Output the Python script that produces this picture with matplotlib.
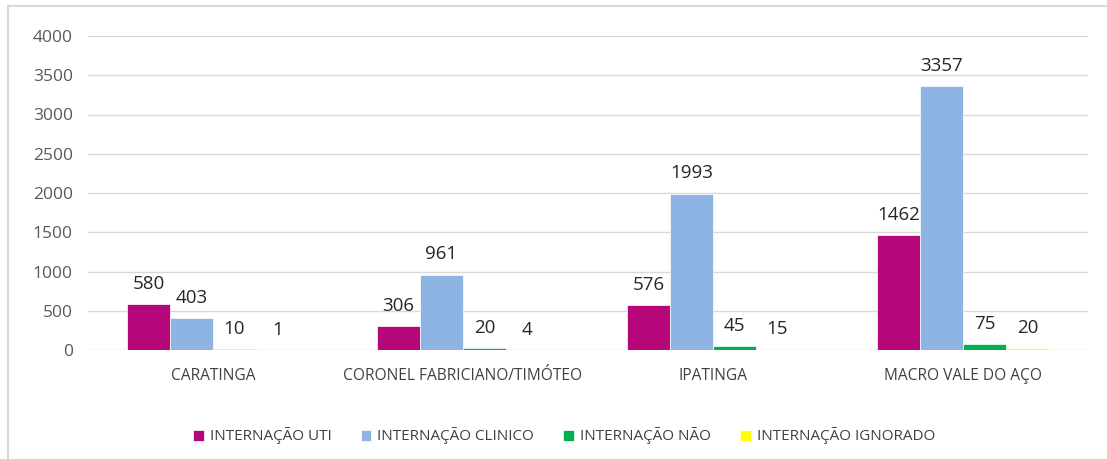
#!/usr/bin/env python
"""Hospitalisations by micro-region, grouped bar chart."""

import matplotlib

matplotlib.use("Agg")

import matplotlib.pyplot as plt
import numpy as np
from matplotlib.patches import Rectangle

plt.rcParams["font.family"] = ["Open Sans", "DejaVu Sans"]

categories = ["CARATINGA", "CORONEL FABRICIANO/TIMÓTEO", "IPATINGA", "MACRO VALE DO AÇO"]
series_names = ["INTERNAÇÃO UTI", "INTERNAÇÃO CLINICO", "INTERNAÇÃO NÃO", "INTERNAÇÃO IGNORADO"]
uti = [580, 306, 576, 1462]
clinico = [403, 961, 1993, 3357]
nao = [10, 20, 45, 75]
ignorado = [1, 4, 15, 20]
yticks = [0, 500, 1000, 1500, 2000, 2500, 3000, 3500, 4000]

colors = ["#B5077A", "#8EB4E3", "#00B050", "#FFFF00"]

fig = plt.figure(figsize=(11.07, 4.59), dpi=100)
fig.patches.append(Rectangle((8 / 1107, -0.1), 1.2, 1.1 - 6 / 459, transform=fig.transFigure,
                             fill=False, edgecolor="#D9D9D9", linewidth=1.5))
ax = fig.add_axes([88 / 1107, 1 - 350 / 459, 1000 / 1107, 314 / 459])

x = np.arange(len(categories))
width = 0.172
for i, (vals, name) in enumerate(zip([uti, clinico, nao, ignorado], series_names)):
    pos = x + (i - 1.5) * width
    bars = ax.bar(pos, vals, width, color=colors[i], label=name, edgecolor="white", linewidth=0.5, zorder=3)
    for rect, v in zip(bars, vals):
        ax.annotate(str(v), (rect.get_x() + rect.get_width() / 2, v), xytext=(0, 8),
                    textcoords="offset points", ha="center", va="bottom",
                    fontsize=13.5, color="#262626")

ax.set_xlim(-0.5, len(categories) - 0.5)
ax.set_ylim(0, 4000)
ax.set_yticks(yticks)
ax.set_xticks(x)
ax.set_xticklabels(categories)
ax.grid(axis="y", color="#D9D9D9", linewidth=1, zorder=0)
for side in ["top", "right", "left", "bottom"]:
    ax.spines[side].set_visible(False)
ax.tick_params(axis="both", length=0, colors="#595959")
ax.tick_params(axis="x", pad=13, labelsize=11.2, labelcolor="#404040")
ax.tick_params(axis="y", pad=11, labelsize=12.5)

fig.legend(loc="center", bbox_to_anchor=(564 / 1107, 1 - 436 / 459), ncol=4, frameon=False,
           fontsize=11, handlelength=0.7, handleheight=0.7, handletextpad=0.4,
           columnspacing=1.9, labelcolor="#404040")

fig.savefig("out.png", dpi=100)
